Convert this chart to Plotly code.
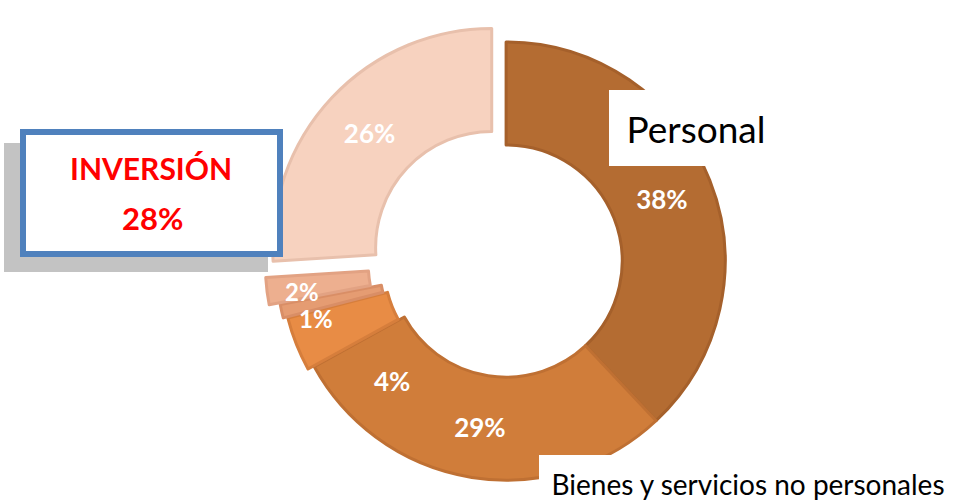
import plotly.graph_objects as go

# ---- data ----
categories = ["Personal", "Bienes y servicios no personales", "Inversión A", "Inversión B", "Inversión C", "Inversión D"]
values = [38, 29, 4, 1, 2, 26]
fill_colors = ["#B46C32", "#D07D3A", "#E88C45", "#E59C72", "#EDAF8F", "#F7D2BF"]
line_colors = ["#A5602B", "#BF7033", "#D67E3C", "#D98E66", "#E2A283", "#E8C0AC"]
pulls = [0.0, 0.0, 0.03, 0.05, 0.10, 0.09]
inversion_label = "INVERSIÓN"
inversion_value = "28%"
personal_label = "Personal"
bienes_label = "Bienes y servicios no personales"

W, H = 954, 502
total = sum(values)
pct = [f"{round(v / total * 100)}%" for v in values]

def px(x):
    return x / W

def py(y):
    return 1 - y / H

texttemplates = [pct[0], pct[1], "", "", "", pct[5]]

fig = go.Figure()
fig.add_trace(go.Pie(
    labels=categories,
    values=values,
    sort=False,
    direction="clockwise",
    rotation=0,
    hole=0.53,
    pull=pulls,
    marker=dict(colors=fill_colors, line=dict(color=line_colors, width=3)),
    texttemplate=texttemplates,
    textposition="inside",
    insidetextorientation="horizontal",
    textfont=dict(family="Lato", size=26, color="white", weight="bold"),
    domain=dict(x=[0.061, 1.0], y=[0, 0.96]),
    showlegend=False,
    hoverinfo="label+percent",
))

def box(cx, cy, w, h, bg, border=None, bw=0, text=" ", font=None):
    d = dict(x=px(cx), y=py(cy), xref="paper", yref="paper",
             xanchor="center", yanchor="middle", showarrow=False,
             text=text, width=w, height=h, bgcolor=bg, borderpad=0,
             borderwidth=bw, align="center", valign="middle")
    if border:
        d["bordercolor"] = border
    if font:
        d["font"] = font
    return d

annotations = [
    # shadow + bordered Inversión box
    box(136, 207.5, 264, 129, "#C3C3C3"),
    box(151.5, 193, 251, 116, "white", border="#4F81BD", bw=6),
    dict(x=px(151), y=py(168), xref="paper", yref="paper", xanchor="center", yanchor="middle",
         text=f"<b>{inversion_label}</b>", showarrow=False,
         font=dict(family="Lato", size=30, color="#FF0000")),
    dict(x=px(152), y=py(218), xref="paper", yref="paper", xanchor="center", yanchor="middle",
         text=f"<b>{inversion_value}</b>", showarrow=False,
         font=dict(family="Lato", size=31, color="#FF0000")),
    # Personal white box with text
    box(696, 128, 174, 76, "white", text=personal_label,
        font=dict(family="Lato", size=37, color="black")),
    # Bienes white box with text
    box(748, 484, 418, 58, "white", text=bienes_label,
        font=dict(family="Lato", size=28, color="black")),
    # small slice labels
    dict(x=px(302), y=py(291), xref="paper", yref="paper", xanchor="center", yanchor="middle",
         text=f"<b>{pct[4]}</b>", showarrow=False,
         font=dict(family="Lato", size=24, color="white")),
    dict(x=px(316), y=py(318), xref="paper", yref="paper", xanchor="center", yanchor="middle",
         text=f"<b>{pct[3]}</b>", showarrow=False,
         font=dict(family="Lato", size=24, color="white")),
    dict(x=px(349), y=py(340), xref="paper", yref="paper", xanchor="center", yanchor="middle",
         text=f"<b>{pct[2]}</b>", showarrow=True, arrowhead=0, arrowwidth=1,
         arrowcolor="#A6A6A6", ax=43, ay=41, standoff=0,
         font=dict(family="Lato", size=26, color="white")),
]

fig.update_layout(
    width=W, height=H,
    margin=dict(l=0, r=0, t=0, b=0),
    paper_bgcolor="white",
    plot_bgcolor="white",
    annotations=annotations,
)

fig.write_html("out.html", config={"displayModeBar": False},
               post_script="document.body.style.margin='0px';")
